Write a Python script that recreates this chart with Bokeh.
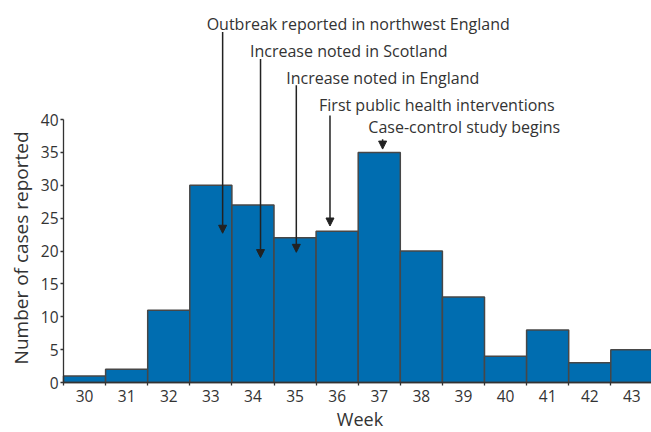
import math
from bokeh.plotting import figure
from bokeh.models import ColumnDataSource, FixedTicker, Arrow, NormalHead, Range1d
from bokeh.embed import file_html
from bokeh.resources import INLINE
from bokeh.core.properties import value

# ---- data ----
weeks = list(range(30, 44))
cases = [1, 2, 11, 30, 27, 22, 23, 35, 20, 13, 4, 8, 3, 5]
y_ticks = [0, 5, 10, 15, 20, 25, 30, 35, 40]

x_title = "Week"
y_title = "Number of cases reported"

events = [
    "Outbreak reported in northwest England",
    "Increase noted in Scotland",
    "Increase noted in England",
    "First public health interventions",
    "Case-control study begins",
]
# arrow position (week axis) and arrow tip level (cases axis)
event_x = [33.28, 34.18, 35.03, 35.83, 37.08]
event_tip = [22.7, 19.0, 19.8, 23.8, 35.5]
event_top = [53.3, 49.2, 45.2, 40.6, 37.0]
label_x = [32.90, 33.93, 34.79, 35.57, 36.74]
label_y = [54.55, 50.49, 46.34, 42.28, 38.83]

FONT = "Open Sans"
TXT = "#333333"
BAR = "#006db0"
AX = "#333333"

W, H = 651, 432
X0 = weeks[0] - 0.5          # where the plot area starts
PX_X = 42.1                  # pixels per week
PX_Y = 6.575                 # pixels per case
LEFT, BASE = 63, 382         # plot origin in pixels

x_range = Range1d(X0 - LEFT / PX_X, X0 + (W - LEFT) / PX_X)
y_range = Range1d(-(H - BASE) / PX_Y, BASE / PX_Y)

p = figure(width=W, height=H, x_range=x_range, y_range=y_range,
           output_backend="svg", toolbar_location=None,
           min_border_left=0, min_border_right=0,
           min_border_top=0, min_border_bottom=0)
p.outline_line_color = None
p.grid.visible = False
p.background_fill_color = "white"
p.border_fill_color = "white"

src = ColumnDataSource(dict(
    left=[w - 0.5 for w in weeks],
    right=[w + 0.5 for w in weeks],
    top=cases,
))
p.quad(left="left", right="right", bottom=0, top="top", source=src,
       fill_color=BAR, line_color="#474747", line_width=1.5)

# x axis
xa = p.xaxis[0]
xa.fixed_location = 0
xa.bounds = (X0, weeks[-1] + 0.5)
xa.ticker = FixedTicker(ticks=weeks,
                        minor_ticks=[w - 0.5 for w in weeks] + [weeks[-1] + 0.5])
xa.major_tick_out = 0
xa.major_tick_in = 0
xa.minor_tick_out = 3
xa.minor_tick_in = 0
xa.minor_tick_line_color = AX
xa.minor_tick_line_width = 1.3
xa.axis_line_color = AX
xa.axis_line_width = 1.3
xa.major_label_text_font = FONT
xa.major_label_text_font_size = "15.5px"
xa.major_label_text_color = TXT
xa.major_label_standoff = 4

# y axis
ya = p.yaxis[0]
ya.fixed_location = X0
ya.ticker = FixedTicker(ticks=y_ticks)
ya.bounds = (0, 40)
ya.major_tick_out = 3
ya.major_tick_in = 0
ya.minor_tick_out = 0
ya.minor_tick_in = 0
ya.major_tick_line_color = AX
ya.major_tick_line_width = 1.3
ya.axis_line_color = AX
ya.axis_line_width = 1.3
ya.major_label_text_font = FONT
ya.major_label_text_font_size = "15.5px"
ya.major_label_text_color = TXT
ya.major_label_standoff = 2

# axis titles
p.text(x=[X0 + (359.5 - LEFT) / PX_X], y=[-(418 - BASE) / PX_Y], text=[x_title],
       text_font=value(FONT), text_font_size="18px", text_color=TXT,
       text_align="center", text_baseline="alphabetic")
p.text(x=[X0 - (LEFT - 20.5) / PX_X], y=[(BASE - 247.4) / PX_Y], text=[y_title],
       angle=math.pi / 2,
       text_font=value(FONT), text_font_size="19px", text_color=TXT,
       text_align="center", text_baseline="alphabetic")

# arrows
asrc = ColumnDataSource(dict(xs=event_x, ys=event_top, xe=event_x, ye=event_tip))
p.add_layout(Arrow(end=NormalHead(size=8, fill_color="#222222", line_color="#222222", line_width=1),
                   x_start="xs", y_start="ys", x_end="xe", y_end="ye", source=asrc,
                   line_color="#222222", line_width=1.5))

p.text(x=label_x, y=label_y, text=events, text_font=value(FONT),
       text_font_size="16px", text_color=TXT, text_align="left",
       text_baseline="alphabetic")

open("out.html", "w").write(file_html(p, INLINE))
